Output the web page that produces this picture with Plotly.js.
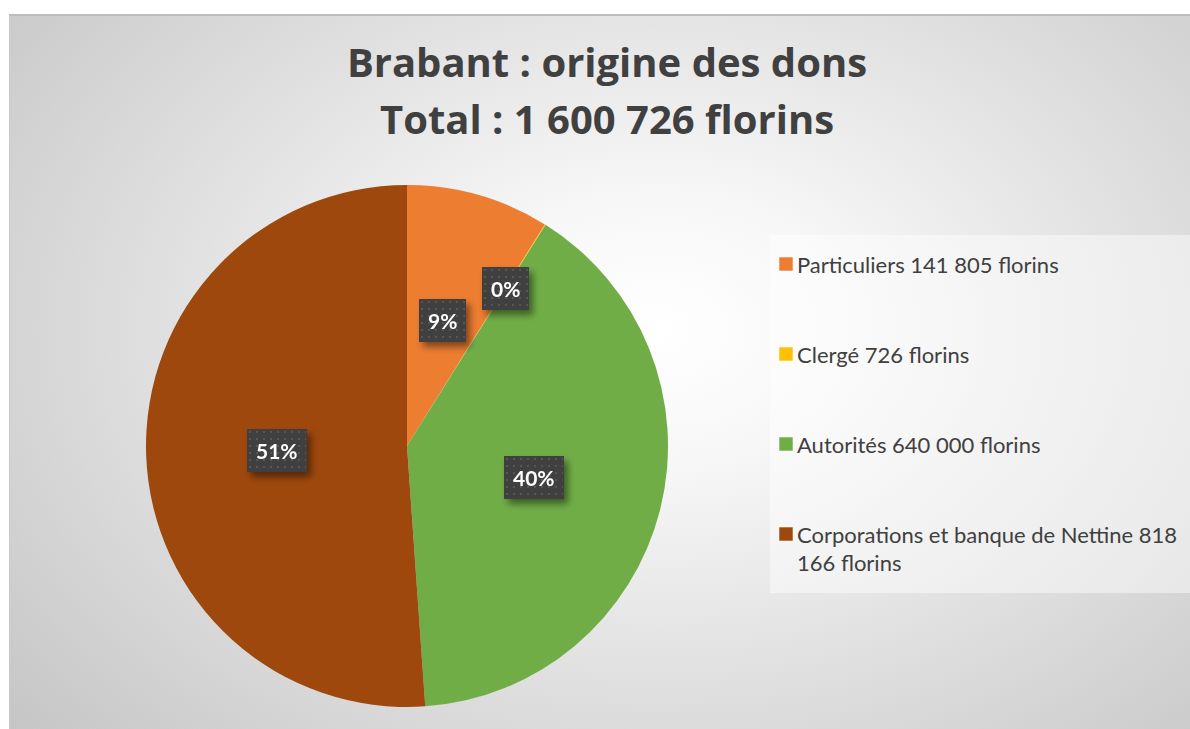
<!DOCTYPE html>
<html>
<head>
<meta charset="utf-8">
<script src="https://cdn.plot.ly/plotly-3.0.1.min.js"></script>
<style>
html,body{margin:0;padding:0;background:#ffffff;width:1190px;height:729px;overflow:hidden}
#frame{position:absolute;left:9px;top:14px;width:1181px;height:715px;box-sizing:border-box;
  border-top:2px solid #bdbdbd;border-left:1px solid #c9c9c9;
  background:radial-gradient(ellipse 72% 85% at 55% 44%, #ffffff 0%, #f7f7f7 22%, #e2e2e2 55%, #c6c6c6 100%);}
#chart{position:absolute;left:0;top:0;width:1190px;height:729px}
g.annotation:not([data-index="4"]) rect.bg{fill:url(#dots) !important}
g.annotation:not([data-index="4"]) g.annotation-text-g{filter:url(#shadow)}
</style>
</head>
<body>
<svg width="0" height="0" style="position:absolute">
  <defs>
    <pattern id="dots" width="7" height="7" patternUnits="userSpaceOnUse">
      <rect width="7" height="7" fill="#404040"></rect>
      <rect x="2" y="2" width="2" height="2" fill="#575757"></rect>
    </pattern>
    <filter id="shadow" x="-30%" y="-30%" width="170%" height="180%">
      <feDropShadow dx="4" dy="5" stdDeviation="3.5" flood-color="#000" flood-opacity="0.45"></feDropShadow>
    </filter>
  </defs>
</svg>
<div id="frame"></div>
<div id="chart"></div>
<script>
// ---- data ----
const categories = ['Particuliers 141 805 florins', 'Clergé 726 florins', 'Autorités 640 000 florins', 'Corporations et banque de Nettine 818 166 florins'];
const values = [141805, 726, 640000, 818166];
const colors = ['#ED7D31', '#FFC000', '#70AD47', '#9E480E'];
const titleLines = ['Brabant : origine des dons', 'Total : 1 600 726 florins'];
const labelRadius = [0.5, 0.71, 0.5, 0.5];

// ---- layout geometry ----
const W = 1190, H = 729;
const domX = [146 / W, 668 / W];
const domY = [1 - 707 / H, 1 - 185 / H];
const FONT = 'Lato, "Open Sans", sans-serif';
const TFONT = '"Open Sans", Lato, sans-serif';
const TXT = '#404040';

function wrap(s, max) {
  if (s.length <= max) return s;
  const cut = s.lastIndexOf(' ', max);
  return s.slice(0, cut) + '<br>' + s.slice(cut + 1);
}
const legendLabels = categories.map(c => wrap(c, 37));

const total = values.reduce((a, b) => a + b, 0);
const cx = (domX[0] + domX[1]) / 2 * W;
const cy = (1 - (domY[0] + domY[1]) / 2) * H;
const R = Math.min((domX[1] - domX[0]) * W, (domY[1] - domY[0]) * H) / 2;

const annotations = [];
let cum = 0;
values.forEach((v, i) => {
  const mid = (cum + v / 2) / total * 2 * Math.PI;
  cum += v;
  const px = cx + labelRadius[i] * R * Math.sin(mid);
  const py = cy - labelRadius[i] * R * Math.cos(mid);
  annotations.push({
    xref: 'paper', yref: 'paper', x: px / W, y: 1 - py / H,
    xanchor: 'center', yanchor: 'middle', showarrow: false,
    text: Math.round(v / total * 100) + '%',
    font: {family: FONT, size: 21, color: '#ffffff', weight: 'bold'},
    bgcolor: '#404040', bordercolor: '#404040', borderwidth: 1, borderpad: 8
  });
});
annotations.push({
  xref: 'paper', yref: 'paper', x: 607 / W, y: 1 - 119 / H,
  xanchor: 'center', yanchor: 'middle', showarrow: false,
  text: titleLines[1],
  font: {family: TFONT, size: 40, color: TXT, weight: 'bold'}
});

const trace = {
  type: 'pie',
  labels: legendLabels,
  values: values,
  sort: false,
  direction: 'clockwise',
  rotation: 0,
  textinfo: 'none',
  hoverinfo: 'none',
  marker: {colors: colors, line: {width: 0}},
  domain: {x: domX, y: domY}
};

const layout = {
  width: W, height: H,
  margin: {l: 0, r: 0, t: 0, b: 0},
  paper_bgcolor: 'rgba(0,0,0,0)',
  plot_bgcolor: 'rgba(0,0,0,0)',
  title: {
    text: titleLines[0],
    x: 607 / W, xanchor: 'center',
    y: 1 - 63 / H, yanchor: 'middle',
    font: {family: TFONT, size: 40, color: TXT, weight: 'bold'}
  },
  showlegend: true,
  legend: {
    x: 757 / W, xanchor: 'left',
    y: 1 - 245 / H, yanchor: 'top',
    bgcolor: 'rgba(0,0,0,0)', borderwidth: 0,
    valign: 'top',
    font: {family: FONT, size: 22, color: TXT}
  },
  shapes: [{
    type: 'rect', xref: 'paper', yref: 'paper',
    x0: 770 / W, x1: 1, y0: 1 - 593 / H, y1: 1 - 235 / H,
    fillcolor: 'rgba(255,255,255,0.45)', line: {width: 0}, layer: 'below'
  }],
  annotations: annotations
};

Plotly.newPlot('chart', [trace], layout, {displayModeBar: false, staticPlot: true}).then(gd => {
  const legendTop = 245, first = 264, step = 90;
  const lineH = 22 * 1.3;
  const items = gd.querySelectorAll('.legend .traces');
  items.forEach((el, i) => {
    const t = el.getAttribute('transform') || '';
    const m = t.match(/translate\(\s*([-\d.]+)[ ,]+([-\d.]+)/);
    const x = m ? parseFloat(m[1]) : 0;
    const nLines = Math.max(1, el.querySelectorAll('text.legendtext tspan.line').length);
    const extra = (nLines - 1) * lineH / 2;
    el.setAttribute('transform', 'translate(' + x + ',' + (first - legendTop + i * step + extra) + ')');
    el.querySelectorAll('path.legendpie').forEach(p => {
      const pt = p.getAttribute('transform') || '';
      const pm = pt.match(/translate\(\s*([-\d.]+)[ ,]*([-\d.]*)/);
      const px = pm ? parseFloat(pm[1]) : 20;
      p.setAttribute('transform', 'translate(' + (px + 9) + ',0) scale(1.12)');
    });
  });
  gd.querySelectorAll('.legend .scrollbox').forEach(s => s.removeAttribute('clip-path'));
  const lg = gd.querySelector('.legend');
  if (lg) lg.removeAttribute('clip-path');
});
</script>
</body>
</html>
